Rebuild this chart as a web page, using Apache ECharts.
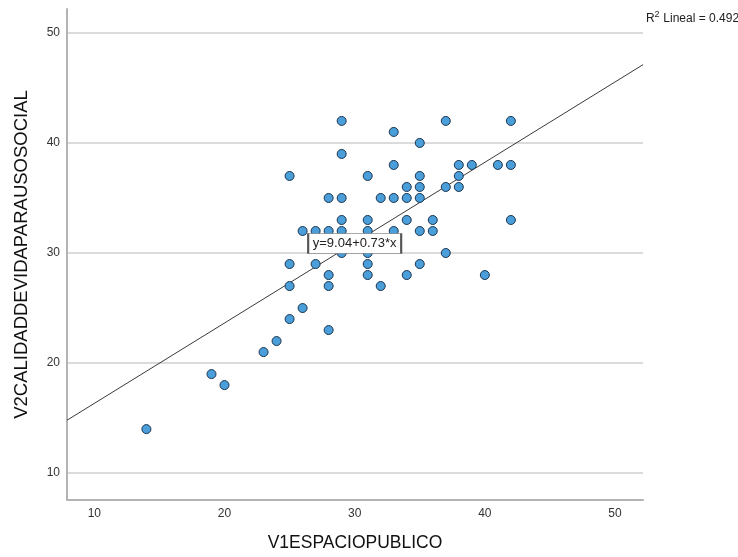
<!DOCTYPE html>
<html>
<head>
<meta charset="utf-8">
<script src="https://cdn.jsdelivr.net/npm/echarts@6/dist/echarts.min.js"></script>
<style>
html,body{margin:0;padding:0;background:#fff;}
#chart{width:738px;height:557px;}
</style>
</head>
<body>
<div id="chart"></div>
<script>
// V1ESPACIOPUBLICO values
var xValues = [14,19,20,23,24,25,26,28,
  25,25,25,
  26,27,27,
  28,28,28,28,
  29,29,29,29,29,29,
  31,31,31,31,31,31,31,
  32,32,
  33,33,33,33,
  34,34,34,34,
  35,35,35,35,35,35,
  36,36,
  37,37,37,
  38,38,38,
  39,
  40,
  41,
  42,42,42];
// V2CALIDADDEVIDAPARAUSOSOCIAL values
var yValues = [14,19,18,21,22,24,25,23,
  27,29,37,
  32,32,29,
  27,28,32,35,
  42,39,35,33,32,30,
  37,33,32,30,29,28,31,
  35,27,
  41,38,35,32,
  36,35,33,28,
  40,37,36,35,32,29,
  33,32,
  42,36,30,
  38,37,36,
  38,
  28,
  38,
  42,38,33];
var tickValues = [10,20,30,40,50];
var fitIntercept = 9.04;
var fitSlope = 0.73;
var fitLabel = 'y=9.04+0.73*x';
var fitLabelAt = [30, 30.86];
var r2Text = ' Lineal = 0.492';

var xMin = 7.9, xMax = 52.15, yMin = 7.56, yMax = 52.17;

var points = xValues.map(function(x, i){ return [x, yValues[i]]; });
var fitLine = [[xMin, fitIntercept + fitSlope * xMin], [xMax, fitIntercept + fitSlope * xMax]];
var FONT = 'Liberation Sans, Arial, sans-serif';

var chart = echarts.init(document.getElementById('chart'), null, {renderer:'canvas'});
chart.setOption({
  animation: false,
  backgroundColor: '#ffffff',
  textStyle: {fontFamily: FONT},
  grid: {left: 67, right: 95, top: 9, bottom: 54, containLabel: false},
  xAxis: {
    type: 'value', min: xMin, max: xMax,
    name: 'V1ESPACIOPUBLICO', nameLocation: 'middle', nameGap: 34,
    nameTextStyle: {fontSize: 17.5, color: '#111', fontFamily: FONT},
    axisLine: {show: true, lineStyle: {color: '#b4b4b4', width: 2}},
    axisTick: {show: false, customValues: tickValues},
    axisLabel: {customValues: tickValues, fontSize: 12, color: '#333', margin: 8},
    splitLine: {show: false}
  },
  yAxis: {
    type: 'value', min: yMin, max: yMax,
    name: 'V2CALIDADDEVIDAPARAUSOSOCIAL', nameLocation: 'middle', nameGap: 36, nameRotate: 90,
    nameTextStyle: {fontSize: 18.5, color: '#111', fontFamily: FONT},
    axisLine: {show: true, lineStyle: {color: '#b4b4b4', width: 2}},
    axisTick: {show: false, customValues: tickValues},
    axisLabel: {customValues: tickValues, fontSize: 12, color: '#333', margin: 7},
    splitLine: {show: true, lineStyle: {color: '#cfcfcf', width: 1.5}}
  },
  series: [
    {
      type: 'line', data: fitLine, symbol: 'none', silent: true, z: 2,
      lineStyle: {color: '#3a3a3a', width: 1}
    },
    {
      type: 'scatter', data: points, symbol: 'circle', symbolSize: 9, z: 3,
      itemStyle: {color: '#4a9fda', borderColor: '#1c3550', borderWidth: 1, opacity: 1}
    },
    {
      type: 'scatter', data: [], z: 10, silent: true,
      markPoint: {
        silent: true, z: 10,
        symbol: 'rect', symbolSize: [93, 20],
        itemStyle: {color: '#ffffff', borderColor: '#555', borderWidth: 1, opacity: 1},
        label: {show: true, position: 'inside', formatter: fitLabel, fontSize: 13, color: '#222', fontFamily: FONT},
        data: [{coord: fitLabelAt}]
      }
    }
  ],
  graphic: [
    {type: 'text', left: 646, top: 13, style: {text: 'R', fontSize: 12, fill: '#222', fontFamily: FONT}},
    {type: 'text', left: 654.5, top: 10, style: {text: '2', fontSize: 9, fill: '#222', fontFamily: FONT}},
    {type: 'text', left: 660, top: 13, style: {text: r2Text, fontSize: 12, fill: '#222', fontFamily: FONT}}
  ]
});
</script>
</body>
</html>
